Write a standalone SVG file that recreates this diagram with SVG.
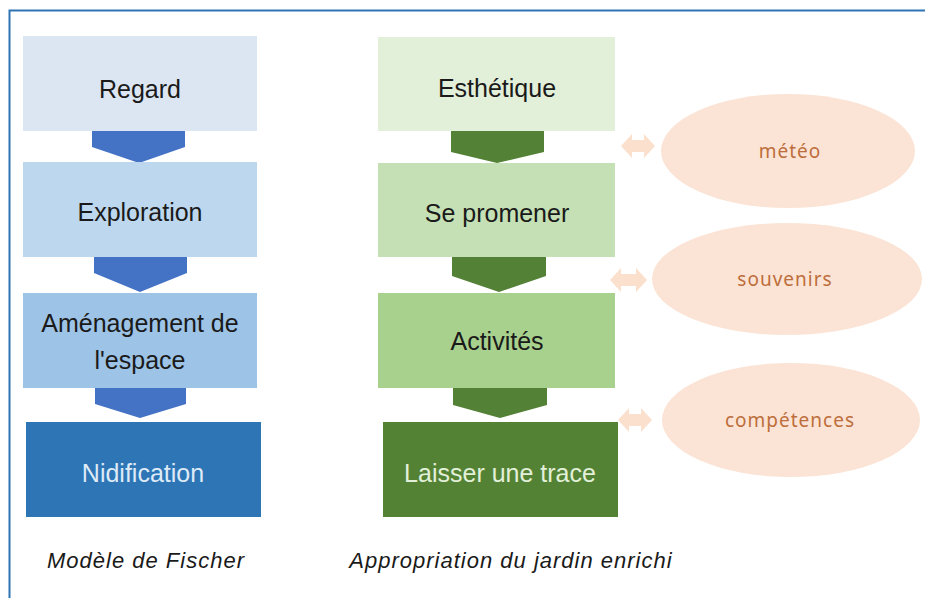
<svg xmlns="http://www.w3.org/2000/svg" width="925" height="598" viewBox="0 0 925 598">
<style>
.t{font-family:"Liberation Sans",Arial,sans-serif;font-size:25px;text-anchor:middle;fill:#1a1a1a}
.cap{font-family:"Liberation Sans",Arial,sans-serif;font-size:22px;font-style:italic;letter-spacing:1px;text-anchor:middle;fill:#1a1a1a}
.el{fill:#fbe4d5}
.et{font-family:"Noto Sans","Open Sans",sans-serif;font-size:19px;letter-spacing:1px;text-anchor:middle;fill:#bd6e3c}
.da{fill:#f9d5bc;opacity:0.75}
.ba{fill:#4472c4}
.ga{fill:#538135}
</style>
<rect width="925" height="598" fill="#ffffff"/>
<path d="M9.5,598 V10.5 H925" fill="none" stroke="#2e74b5" stroke-width="2"/>

<g id="connectors">
  <polygon class="ba" points="92,131 185,131 185,147 139,163 92,147"/>
  <polygon class="ba" points="94,257 187,257 187,273 140,292 94,273"/>
  <polygon class="ba" points="95,388 186,388 186,404 140,418 95,404"/>
  <polygon class="ga" points="451,131 544,131 544,152 497,163 451,152"/>
  <polygon class="ga" points="452,257 546,257 546,276 499,292 452,276"/>
  <polygon class="ga" points="453,388 547,388 547,405 500,418 453,405"/>
  <polygon class="da" points="621,146 632,134 632,140 644,140 644,134 655,146 644,158 644,152 632,152 632,158"/>
  <polygon class="da" points="610,280 621,268 621,274 636,274 636,268 647,280 636,292 636,286 621,286 621,292"/>
  <polygon class="da" points="618,420 629,408 629,414 641,414 641,408 652,420 641,432 641,426 629,426 629,432"/>
</g>

<g id="regard">
  <rect x="23" y="36" width="234" height="95" fill="#dce6f2"/>
  <text class="t" x="140" y="98">Regard</text>
</g>
<g id="exploration">
  <rect x="23" y="162" width="234" height="95" fill="#bdd7ee"/>
  <text class="t" x="140" y="221">Exploration</text>
</g>
<g id="amenagement">
  <rect x="23" y="293" width="234" height="95" fill="#9dc3e6"/>
  <text class="t" x="140" y="332">Aménagement de</text>
  <text class="t" x="140" y="369">l'espace</text>
</g>
<g id="nidification">
  <rect x="26" y="422" width="235" height="95" fill="#2e75b6"/>
  <text class="t" x="143" y="482" style="fill:#deebf7">Nidification</text>
</g>
<g id="caption-fischer">
  <text class="cap" x="146" y="568">Modèle de Fischer</text>
</g>

<g id="esthetique">
  <rect x="378" y="37" width="237" height="94" fill="#e2efd9"/>
  <text class="t" x="497" y="97">Esthétique</text>
</g>
<g id="se-promener">
  <rect x="378" y="163" width="237" height="94" fill="#c5e0b4"/>
  <text class="t" x="497" y="222">Se promener</text>
</g>
<g id="activites">
  <rect x="378" y="293" width="237" height="95" fill="#a9d18e"/>
  <text class="t" x="497" y="350">Activités</text>
</g>
<g id="laisser-une-trace">
  <rect x="383" y="422" width="235" height="95" fill="#548235"/>
  <text class="t" x="500" y="482" style="fill:#e2f0d9">Laisser une trace</text>
</g>
<g id="caption-jardin">
  <text class="cap" x="511" y="568">Appropriation du jardin enrichi</text>
</g>

<g id="meteo">
  <ellipse class="el" cx="788" cy="151" rx="127" ry="57"/>
  <text class="et" x="790" y="158">météo</text>
</g>
<g id="souvenirs">
  <ellipse class="el" cx="787" cy="279" rx="135" ry="56"/>
  <text class="et" x="785" y="286">souvenirs</text>
</g>
<g id="competences">
  <ellipse class="el" cx="791" cy="420" rx="129" ry="57"/>
  <text class="et" x="790" y="427">compétences</text>
</g>
</svg>
